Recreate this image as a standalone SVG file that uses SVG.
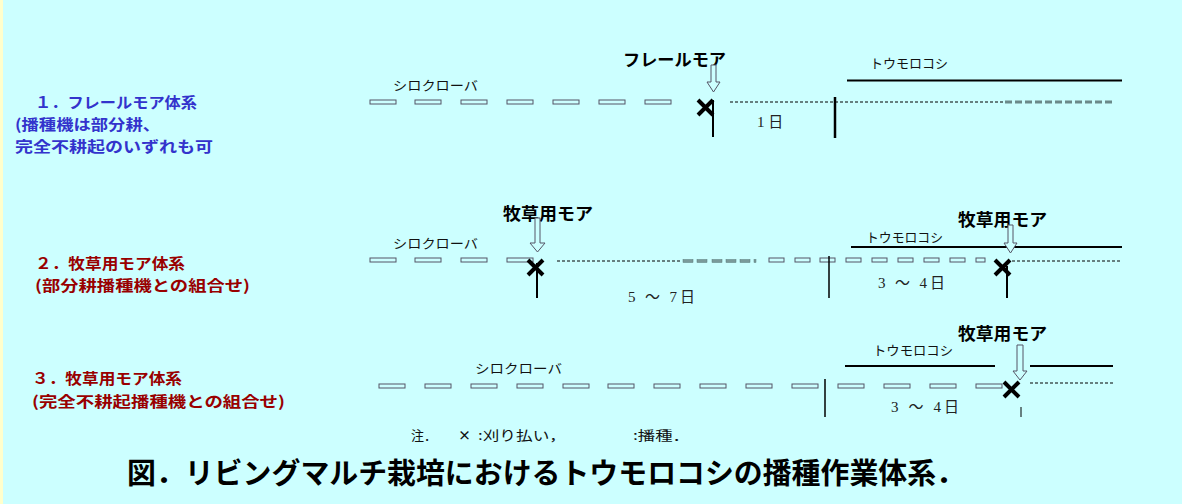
<svg xmlns="http://www.w3.org/2000/svg" width="1182" height="504" viewBox="0 0 1182 504">
<defs>
<style>
.bg{fill:#CCFFFF}
.t{font-family:"Noto Sans CJK JP",sans-serif}
.blue{fill:#3333CC;font-weight:bold;font-size:15px}
.red{fill:#990000;font-weight:bold;font-size:15px}
.mower{font-weight:bold;font-size:17px;fill:#000}
.crop{font-size:13px;fill:#111}
.days{font-family:"Liberation Serif","Noto Sans CJK JP",serif;font-size:15px;fill:#222}
.dash{fill:#CCFFFF;stroke:#556;stroke-width:1}
.gdash{fill:#7A9A9A;stroke:#5A7A7A;stroke-width:0.5}
.dot{stroke:#000;stroke-width:1;stroke-dasharray:3 2;fill:none}
.solid{stroke:#000;stroke-width:2;fill:none}
.vline{stroke:#000;stroke-width:2;fill:none}
.xm{stroke:#000;stroke-width:4;fill:none}
.arr{fill:#CCFFFF;stroke:#556;stroke-width:1}
</style>
</defs>
<rect class="bg" x="0" y="0" width="1182" height="504"/>
<rect x="0" y="0" width="3" height="504" fill="#FFFFCC"/>

<g id="labels">
<text class="t blue" x="35" y="108" textLength="162" lengthAdjust="spacingAndGlyphs">１．フレールモア体系</text>
<text class="t blue" x="15" y="130" textLength="145" lengthAdjust="spacingAndGlyphs">(播種機は部分耕、</text>
<text class="t blue" x="15" y="152" textLength="198" lengthAdjust="spacingAndGlyphs">完全不耕起のいずれも可</text>
<text class="t red" x="35" y="269" textLength="150" lengthAdjust="spacingAndGlyphs">２．牧草用モア体系</text>
<text class="t red" x="35" y="291" textLength="215" lengthAdjust="spacingAndGlyphs">(部分耕播種機との組合せ)</text>
<text class="t red" x="32" y="384" textLength="150" lengthAdjust="spacingAndGlyphs">３．牧草用モア体系</text>
<text class="t red" x="32" y="407" textLength="253" lengthAdjust="spacingAndGlyphs">(完全不耕起播種機との組合せ)</text>
</g>

<g id="row1">
<text class="t crop" x="393" y="90" textLength="85" lengthAdjust="spacingAndGlyphs">シロクローバ</text>
<rect class="dash" x="370" y="100" width="26" height="4"/>
<rect class="dash" x="415" y="100" width="26" height="4"/>
<rect class="dash" x="461" y="100" width="26" height="4"/>
<rect class="dash" x="507" y="100" width="26" height="4"/>
<rect class="dash" x="553" y="100" width="26" height="4"/>
<rect class="dash" x="599" y="100" width="26" height="4"/>
<rect class="dash" x="645" y="100" width="26" height="4"/>
<text class="t mower" x="623" y="66" textLength="103" lengthAdjust="spacingAndGlyphs">フレールモア</text>
<path class="arr" d="M711,65 H716 V82 H720 L713.5,92 L707,82 H711 Z"/>
<path class="xm" d="M698,100 L713,115 M713,100 L698,115"/>
<line class="vline" x1="713" y1="100" x2="713" y2="137"/>
<line class="dot" x1="730" y1="102" x2="1005" y2="102"/>
<line x1="1005" y1="102" x2="1112" y2="102" stroke="#6A8A8A" stroke-width="3" stroke-dasharray="7 3"/>
<line x1="835" y1="97" x2="835" y2="138" stroke="#000" stroke-width="2.5"/>
<text class="days" x="757" y="127">1 日</text>
<text class="t crop" x="870" y="68" textLength="78" lengthAdjust="spacingAndGlyphs">トウモロコシ</text>
<line class="solid" x1="847" y1="80.5" x2="1122" y2="80.5"/>
</g>

<g id="row2">
<text class="t crop" x="393" y="248" textLength="85" lengthAdjust="spacingAndGlyphs">シロクローバ</text>
<rect class="dash" x="370" y="258" width="26" height="4"/>
<rect class="dash" x="415" y="258" width="26" height="4"/>
<rect class="dash" x="461" y="258" width="26" height="4"/>
<rect class="dash" x="507" y="258" width="26" height="4"/>
<text class="t mower" x="503" y="220" textLength="90" lengthAdjust="spacingAndGlyphs">牧草用モア</text>
<path class="arr" d="M535,218 H540 V243 H545 L537.5,252 L530,243 H535 Z"/>
<path class="xm" d="M528,260 L543,275 M543,260 L528,275"/>
<line class="vline" x1="537" y1="263" x2="537" y2="298" stroke-width="1.5"/>
<line class="dot" x1="557" y1="261" x2="682" y2="261"/>
<rect class="gdash" x="683" y="259.5" width="10" height="3"/>
<rect class="gdash" x="697" y="259.5" width="10" height="3"/>
<rect class="gdash" x="712" y="259.5" width="10" height="3"/>
<rect class="gdash" x="726" y="259.5" width="10" height="3"/>
<rect class="gdash" x="740" y="259.5" width="10" height="3"/>
<rect class="gdash" x="754" y="259.5" width="2" height="3"/>
<rect class="dash" x="769" y="258" width="15" height="4"/>
<rect class="dash" x="795" y="258" width="15" height="4"/>
<rect class="dash" x="820" y="258" width="15" height="4"/>
<rect class="dash" x="846" y="258" width="15" height="4"/>
<rect class="dash" x="872" y="258" width="15" height="4"/>
<rect class="dash" x="898" y="258" width="15" height="4"/>
<rect class="dash" x="924" y="258" width="15" height="4"/>
<rect class="dash" x="950" y="258" width="15" height="4"/>
<rect class="dash" x="976" y="258" width="9" height="4"/>
<line x1="829" y1="256" x2="829" y2="298" stroke="#000" stroke-width="1.5"/>
<text class="days" x="628" y="302" font-size="17" textLength="67" lengthAdjust="spacing">5 ～ 7日</text>
<text class="t crop" x="866" y="242" textLength="77" lengthAdjust="spacingAndGlyphs">トウモロコシ</text>
<line class="solid" x1="851" y1="247" x2="1122" y2="247"/>
<text class="t mower" x="958" y="226" textLength="89" lengthAdjust="spacingAndGlyphs">牧草用モア</text>
<path class="arr" d="M1008,225 H1013 V243 H1017 L1010.5,253 L1004,243 H1008 Z"/>
<path class="xm" d="M995,260 L1010,275 M1010,260 L995,275"/>
<line class="vline" x1="1007" y1="266" x2="1007" y2="298"/>
<line class="dot" x1="1012" y1="261" x2="1122" y2="261"/>
<text class="days" x="878" y="288" font-size="17" textLength="67" lengthAdjust="spacing">3 ～ 4日</text>
</g>

<g id="row3">
<text class="t crop" x="475" y="373" textLength="87" lengthAdjust="spacingAndGlyphs">シロクローバ</text>
<rect class="dash" x="379" y="384" width="26" height="4"/>
<rect class="dash" x="425" y="384" width="26" height="4"/>
<rect class="dash" x="471" y="384" width="26" height="4"/>
<rect class="dash" x="517" y="384" width="26" height="4"/>
<rect class="dash" x="563" y="384" width="26" height="4"/>
<rect class="dash" x="608" y="384" width="26" height="4"/>
<rect class="dash" x="654" y="384" width="26" height="4"/>
<rect class="dash" x="700" y="384" width="26" height="4"/>
<rect class="dash" x="746" y="384" width="26" height="4"/>
<rect class="dash" x="792" y="384" width="26" height="4"/>
<rect class="dash" x="838" y="384" width="26" height="4"/>
<rect class="dash" x="884" y="384" width="26" height="4"/>
<rect class="dash" x="930" y="384" width="26" height="4"/>
<rect class="dash" x="976" y="384" width="26" height="4"/>
<line x1="825" y1="379" x2="825" y2="417" stroke="#000" stroke-width="1.5"/>
<text class="t crop" x="873" y="355" textLength="80" lengthAdjust="spacingAndGlyphs">トウモロコシ</text>
<line class="solid" x1="845" y1="366" x2="995" y2="366"/>
<line class="solid" x1="1030" y1="366" x2="1113" y2="366"/>
<text class="t mower" x="958" y="340" textLength="89" lengthAdjust="spacingAndGlyphs">牧草用モア</text>
<path class="arr" d="M1017,345 H1023 V371 H1027 L1020,380 L1013,371 H1017 Z"/>
<path class="xm" d="M1004,382 L1019,397 M1019,382 L1004,397"/>
<line x1="1021" y1="407" x2="1021" y2="417" stroke="#000" stroke-width="1"/>
<line class="dot" x1="1030" y1="383" x2="1113" y2="383"/>
<text class="days" x="891" y="412" font-size="17" textLength="68" lengthAdjust="spacing">3 ～ 4日</text>
</g>

<g id="note">
<text class="t" x="411" y="440" font-size="13" fill="#111">注．</text>
<text class="t" x="458" y="440" font-size="13" font-weight="bold" fill="#111">×</text>
<text class="t" x="478" y="440" font-size="13" fill="#111" textLength="88" lengthAdjust="spacingAndGlyphs">:刈り払い，</text>
<text class="t" x="633" y="440" font-size="13" fill="#111" textLength="57" lengthAdjust="spacingAndGlyphs">:播種．</text>
</g>

<g id="title">
<text class="t" x="127" y="484" font-size="29" font-weight="bold" fill="#000" textLength="838" lengthAdjust="spacingAndGlyphs">図．リビングマルチ栽培におけるトウモロコシの播種作業体系．</text>
</g>
</svg>
